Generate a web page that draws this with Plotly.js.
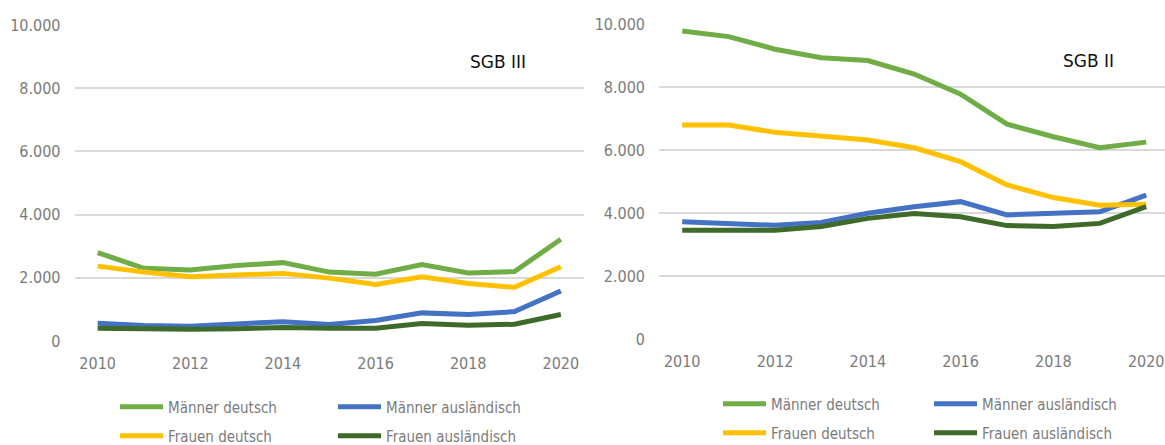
<!DOCTYPE html>
<html>
<head>
<meta charset="utf-8">
<script src="https://cdn.plot.ly/plotly-3.0.1.min.js"></script>
<style>html,body{margin:0;padding:0;background:#fff;}#chart{width:1165px;height:445px;}</style>
</head>
<body>
<div id="chart"></div>
<script>
const years = [2010, 2011, 2012, 2013, 2014, 2015, 2016, 2017, 2018, 2019, 2020];
const seriesNames = ["Männer deutsch", "Männer ausländisch", "Frauen deutsch", "Frauen ausländisch"];
const panelTitles = ["SGB III", "SGB II"];

// SGB III (left panel)
const sgb3MaennerDeutsch = [2800, 2300, 2250, 2390, 2480, 2180, 2110, 2420, 2150, 2200, 3220];
const sgb3MaennerAusl    = [560, 490, 470, 550, 610, 520, 650, 890, 840, 930, 1580];
const sgb3FrauenDeutsch  = [2370, 2180, 2035, 2090, 2140, 1990, 1790, 2030, 1820, 1700, 2350];
const sgb3FrauenAusl     = [400, 370, 370, 390, 430, 400, 400, 550, 500, 530, 840];

// SGB II (right panel)
const sgb2MaennerDeutsch = [9780, 9600, 9200, 8930, 8840, 8410, 7770, 6820, 6420, 6070, 6250];
const sgb2MaennerAusl    = [3720, 3660, 3610, 3700, 3990, 4200, 4360, 3940, 3990, 4040, 4570];
const sgb2FrauenDeutsch  = [6790, 6790, 6560, 6440, 6320, 6070, 5630, 4890, 4490, 4250, 4280];
const sgb2FrauenAusl     = [3450, 3450, 3450, 3570, 3830, 3980, 3880, 3600, 3570, 3670, 4200];

const colors = ["#70AD47", "#4472C4", "#FFC000", "#3E6B29"];
const FONT = '"Liberation Sans Narrow", "Arial Narrow", "DejaVu Sans Condensed", sans-serif';
const GRAY = "#7b7b7b";

function tr(y, name, color, xa, ya, leg) {
  return {
    x: years, y: y, name: name, type: "scatter", mode: "lines",
    xaxis: xa, yaxis: ya, legend: leg,
    line: {color: color, width: 5, shape: "linear"},
    hoverinfo: "x+y+name"
  };
}

const data = [
  tr(sgb3MaennerDeutsch, seriesNames[0], colors[0], "x", "y", "legend"),
  tr(sgb3MaennerAusl,    seriesNames[1], colors[1], "x", "y", "legend"),
  tr(sgb3FrauenDeutsch,  seriesNames[2], colors[2], "x", "y", "legend2"),
  tr(sgb3FrauenAusl,     seriesNames[3], colors[3], "x", "y", "legend2"),
  tr(sgb2MaennerDeutsch, seriesNames[0], colors[0], "x2", "y2", "legend3"),
  tr(sgb2MaennerAusl,    seriesNames[1], colors[1], "x2", "y2", "legend3"),
  tr(sgb2FrauenDeutsch,  seriesNames[2], colors[2], "x2", "y2", "legend4"),
  tr(sgb2FrauenAusl,     seriesNames[3], colors[3], "x2", "y2", "legend4")
];

const xBase = {
  tickvals: [2010, 2012, 2014, 2016, 2018, 2020],
  showgrid: false, zeroline: false, showline: false, ticks: "",
  ticklabelstandoff: 11, automargin: false, ticklabeloverflow: "allow",
  tickfont: {family: FONT, size: 16, color: GRAY}
};
const yBase = {
  range: [0, 10000], dtick: 2000, tick0: 0, tickformat: ",d",
  showgrid: true, gridcolor: "#d9d9d9", gridwidth: 2,
  zeroline: false, showline: false, ticks: "",
  ticklabelstandoff: 13, automargin: false, ticklabeloverflow: "allow",
  tickfont: {family: FONT, size: 16, color: GRAY}
};

function legendCfg(x, y, w) {
  return {
    orientation: "h", x: x, y: y, xanchor: "left", yanchor: "middle",
    xref: "container", yref: "container",
    entrywidth: w, entrywidthmode: "pixels",
    itemwidth: 43,
    font: {family: FONT, size: 15, color: GRAY},
    bgcolor: "rgba(0,0,0,0)", borderwidth: 0, tracegroupgap: 0
  };
}

const layout = {
  width: 1165, height: 445,
  margin: {l: 0, r: 0, t: 0, b: 0, autoexpand: false},
  paper_bgcolor: "#ffffff", plot_bgcolor: "#ffffff",
  separators: ",.",
  showlegend: true,
  xaxis:  Object.assign({}, xBase, {domain: [74.5/1165, 584/1165], range: [2009.5, 2020.5], anchor: "y"}),
  yaxis:  Object.assign({}, yBase, {domain: [1 - 341/445, 1 - 25/445], anchor: "x"}),
  xaxis2: Object.assign({}, xBase, {domain: [659/1165, 1], range: [2009.5, 2020.405], anchor: "y2"}),
  yaxis2: Object.assign({}, yBase, {domain: [1 - 339/445, 1 - 24/445], anchor: "x2"}),
  legend:  legendCfg(115/1165, 1 - 407/445, 160),
  legend2: legendCfg(115/1165, 1 - 436/445, 160),
  legend3: legendCfg(718/1165, 1 - 404/445, 153),
  legend4: legendCfg(718/1165, 1 - 433/445, 153),
  annotations: [
    {text: panelTitles[0], xref: "paper", yref: "paper", x: 498/1165, y: 1 - 62/445,
     xanchor: "center", yanchor: "middle", showarrow: false,
     font: {family: '"DejaVu Sans", sans-serif', size: 17, color: "#111111"}},
    {text: panelTitles[1], xref: "paper", yref: "paper", x: 1088/1165, y: 1 - 61/445,
     xanchor: "center", yanchor: "middle", showarrow: false,
     font: {family: '"DejaVu Sans", sans-serif', size: 17, color: "#111111"}}
  ]
};

Plotly.newPlot("chart", data, layout, {displayModeBar: false, responsive: false});
</script>
</body>
</html>
